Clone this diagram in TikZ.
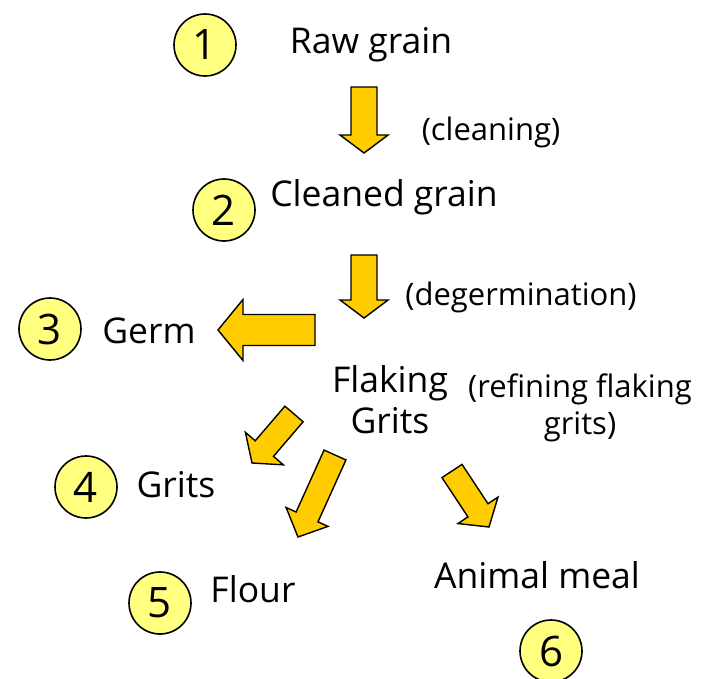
\documentclass[tikz,border=0pt]{standalone}
\usepackage{fontspec}
\setmainfont{Open Sans}
\usetikzlibrary{calc}
\definecolor{stepYellow}{HTML}{FFFF80}
\definecolor{arrowGold}{HTML}{FFCC00}
\tikzset{
  numdisc/.style={circle, draw=black, line width=1.6pt, fill=stepYellow,
    minimum size=62pt, inner sep=0pt, font=\fontsize{42}{46}\selectfont},
  product/.style={inner sep=0pt, font=\fontsize{35.5}{41}\selectfont, align=center},
  process/.style={inner sep=0pt, font=\fontsize{31}{37}\selectfont, align=center},
  blockarrow/.style={draw=black, line width=1.4pt, fill=arrowGold, line join=miter},
}
% #1 tail, #2 tip, #3 shaft half width, #4 head half width, #5 head length
\newcommand{\blockarrow}[5]{%
  \coordinate (neck) at ($(#2)!#5!(#1)$);
  \draw[blockarrow]
    ($(#1)!#3!90:(#2)$) -- ($(neck)!#3!90:(#2)$) -- ($(neck)!#4!90:(#2)$)
    -- (#2) -- ($(neck)!#4!-90:(#2)$) -- ($(neck)!#3!-90:(#2)$)
    -- ($(#1)!#3!-90:(#2)$) -- cycle;
}

\begin{document}
\begin{tikzpicture}[x=1pt, y=-1pt]
  \useasboundingbox (0,0) rectangle (706,679);

  % ===== numbered steps =====
  \node[numdisc] (n1) at (205,45) {1};
  \node[numdisc] (n2) at (224,210) {2};
  \node[numdisc] (n3) at (50,329) {3};
  \node[numdisc] (n4) at (86,487) {4};
  \node[numdisc] (n5) at (160,603) {5};
  \node[numdisc] (n6) at (551,651) {6};

  % ===== products =====
  \node[product] (raw) at (371,45) {Raw grain};
  \node[product] (cleaned) at (384,197) {Cleaned grain};
  \node[product] (germ) at (149,331) {Germ};
  \node[product] (flaking) at (390,400) {Flaking\\Grits};
  \node[product] (grits) at (176,485) {Grits};
  \node[product] (flour) at (253,589) {Flour};
  \node[product] (meal) at (537,575) {Animal meal};

  % ===== process steps =====
  \node[process] (cleaning) at (491,132) {(cleaning)};
  \node[process] (degerm) at (521,297) {(degermination)};
  \node[process] (refining) at (580,408) {(refining flaking\\grits)};

  % ===== block arrows =====
  \coordinate (a1s) at (364,87);  \coordinate (a1e) at (364,153);
  \coordinate (a2s) at (364,255); \coordinate (a2e) at (364,318);
  \coordinate (a3s) at (315,330); \coordinate (a3e) at (218,330);
  \coordinate (a4s) at (294,414); \coordinate (a4e) at (252,463);
  \coordinate (a5s) at (335,455); \coordinate (a5e) at (298,537);
  \coordinate (a6s) at (452,471); \coordinate (a6e) at (489,527);

  \blockarrow{a1s}{a1e}{13pt}{24pt}{18pt}
  \blockarrow{a2s}{a2e}{13pt}{24pt}{18pt}
  \blockarrow{a3s}{a3e}{15.5pt}{30.5pt}{25pt}
  \blockarrow{a4s}{a4e}{12pt}{25pt}{19pt}
  \blockarrow{a5s}{a5e}{12pt}{23pt}{22pt}
  \blockarrow{a6s}{a6e}{12pt}{24pt}{20pt}
\end{tikzpicture}
\end{document}
